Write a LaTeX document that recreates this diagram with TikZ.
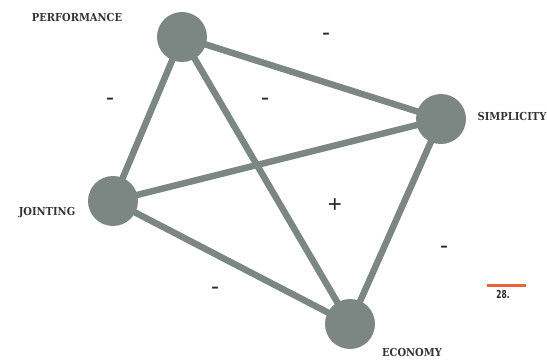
\documentclass[tikz,border=0pt]{standalone}
\usepackage{fontspec}
\setmainfont{DejaVu Serif}
\newfontfamily\lblfont{DejaVu Serif Condensed}
\newfontfamily\signfont{Liberation Sans}
\newfontfamily\numfont{DejaVu Sans Condensed}
\definecolor{edgegrey}{HTML}{7C8683}
\definecolor{accent}{HTML}{E9643A}
\begin{document}
\begin{tikzpicture}[x=1pt,y=-1pt,
  hub/.style={circle,fill=edgegrey,minimum size=50pt,inner sep=0pt},
  link/.style={draw=edgegrey,line width=6.5pt},
  lbl/.style={font=\lblfont\bfseries\fontsize{11}{12}\selectfont,text=black!80},
  sign/.style={font=\signfont\fontsize{24}{26}\selectfont,text=black!85}]
\useasboundingbox (0,0) rectangle (547,361);
\coordinate (pc) at (182,37);
\coordinate (sc) at (441,119);
\coordinate (jc) at (113,201);
\coordinate (ec) at (350,324);
\draw[link] (pc) -- (sc);
\draw[link] (pc) -- (jc);
\draw[link] (pc) -- (ec);
\draw[link] (jc) -- (sc);
\draw[link] (jc) -- (ec);
\draw[link] (sc) -- (ec);
\node[hub] (perf) at (pc) {};
\node[hub] (simp) at (sc) {};
\node[hub] (join) at (jc) {};
\node[hub] (econ) at (ec) {};
\node[lbl] (tperf) at (77,17) {PERFORMANCE};
\node[lbl] (tsimp) at (512,116) {SIMPLICITY};
\node[lbl] (tjoin) at (47,213) {JOINTING};
\node[lbl] (tecon) at (412,352) {ECONOMY};
\node[sign] (s1) at (326,37) {-};
\node[sign] (s2) at (110,102) {-};
\node[sign] (s3) at (265,102) {-};
\node[sign] (s4) at (335,206) {+};
\node[sign] (s5) at (444,250) {-};
\node[sign] (s6) at (215,291) {-};
\coordinate (oa) at (487,285);
\coordinate (ob) at (526,285);
\draw[accent,line width=3pt] (oa) -- (ob);
\node[font=\numfont\bfseries\fontsize{11}{12}\selectfont,text=black!85,xscale=0.75,inner sep=0pt] (num) at (503,294) {28.};
\end{tikzpicture}
\end{document}
